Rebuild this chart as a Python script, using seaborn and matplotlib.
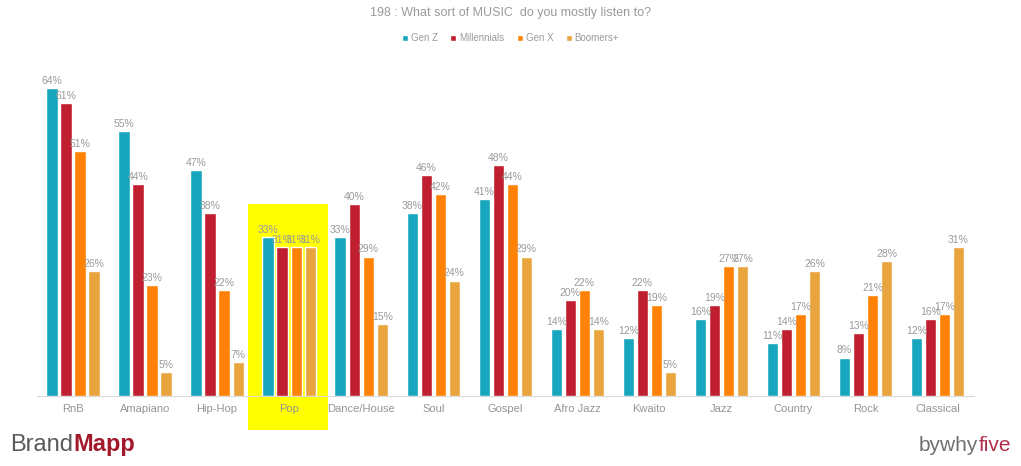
import pandas as pd
import matplotlib
matplotlib.use('Agg')
import matplotlib.pyplot as plt
import matplotlib.transforms as mtransforms
from matplotlib.patches import Rectangle
import seaborn as sns

genres = ['RnB', 'Amapiano', 'Hip-Hop', 'Pop', 'Dance/House', 'Soul', 'Gospel',
          'Afro Jazz', 'Kwaito', 'Jazz', 'Country', 'Rock', 'Classical']
gen_z = [64, 55, 47, 33, 33, 38, 41, 14, 12, 16, 11, 8, 12]
millennials = [61, 44, 38, 31, 40, 46, 48, 20, 22, 19, 14, 13, 16]
gen_x = [51, 23, 22, 31, 29, 42, 44, 22, 19, 27, 17, 21, 17]
boomers = [26, 5, 7, 31, 15, 24, 29, 14, 5, 27, 26, 28, 31]
groups = ['Gen Z', 'Millennials', 'Gen X', 'Boomers+']
colors = ['#17a6bd', '#c01f2f', '#ff8205', '#e9a43e']
highlight = 'Pop'

sns.set_theme(style='white')
plt.rcParams['font.family'] = ['Liberation Sans', 'DejaVu Sans']

rows = []
for g, vals in zip(groups, [gen_z, millennials, gen_x, boomers]):
    for genre, v in zip(genres, vals):
        rows.append({'genre': genre, 'group': g, 'value': v})
df = pd.DataFrame(rows)

fig = plt.figure(figsize=(10.21, 4.66), dpi=100)
ax = fig.add_axes([0.0362, 0.1502, 0.9173, 0.7225])

sns.barplot(data=df, x='genre', y='value', hue='group', order=genres,
            hue_order=groups, palette=colors, width=0.78, gap=0.2,
            saturation=1, ax=ax, legend=False, zorder=3)

for cont, vals in zip(ax.containers, [gen_z, millennials, gen_x, boomers]):
    ax.bar_label(cont, labels=[f'{v}%' for v in vals], padding=1.5,
                 fontsize=7.5, color='#9a9a9a', zorder=4)

# yellow highlight around Pop
hi = genres.index(highlight)
trans = mtransforms.blended_transform_factory(ax.transData, ax.transAxes)
ax.add_patch(Rectangle((hi - 0.57, -0.10), 1.11, 0.67, transform=trans,
                       facecolor='#ffff00', edgecolor='none', clip_on=False,
                       zorder=0))

ax.set_xlim(-0.5, len(genres) - 0.5)
ax.set_ylim(0, 70)
ax.set_xlabel('')
ax.set_ylabel('')
ax.set_yticks([])
ax.tick_params(axis='x', length=0, labelsize=8, labelcolor='#959595', pad=6)
for s in ['top', 'left', 'right']:
    ax.spines[s].set_visible(False)
ax.spines['bottom'].set_color('#d9d9d9')
ax.spines['bottom'].set_linewidth(0.8)
ax.set_facecolor('none')

fig.text(0.5, 0.972, '198 : What sort of MUSIC  do you mostly listen to?',
         ha='center', va='center', fontsize=9, color='#9a9a9a')

handles = [Rectangle((0, 0), 1, 1, facecolor=c) for c in colors]
fig.legend(handles, groups, loc='center', bbox_to_anchor=(0.5, 0.918),
           ncol=4, frameon=False, fontsize=7, labelcolor='#9a9a9a',
           handlelength=0.6, handleheight=0.6, handletextpad=0.3,
           columnspacing=1.3)

# logos
t1 = fig.text(0.010, 0.032, 'Brand', fontsize=17, color='#5a5a5a',
              ha='left', va='baseline')
fig.canvas.draw()
r = fig.canvas.get_renderer()
bb = t1.get_window_extent(r)
fig.text(bb.x1 / fig.bbox.width, 0.032, 'Mapp', fontsize=17,
         color='#a3192c', fontweight='bold', ha='left', va='baseline')

t2 = fig.text(0.990, 0.032, 'five', fontsize=15, color='#b0304a',
              ha='right', va='baseline')
fig.canvas.draw()
bb2 = t2.get_window_extent(fig.canvas.get_renderer())
fig.text(bb2.x0 / fig.bbox.width, 0.032, 'bywhy', fontsize=15,
         color='#707070', ha='right', va='baseline')

fig.savefig('out.png', dpi=100)
